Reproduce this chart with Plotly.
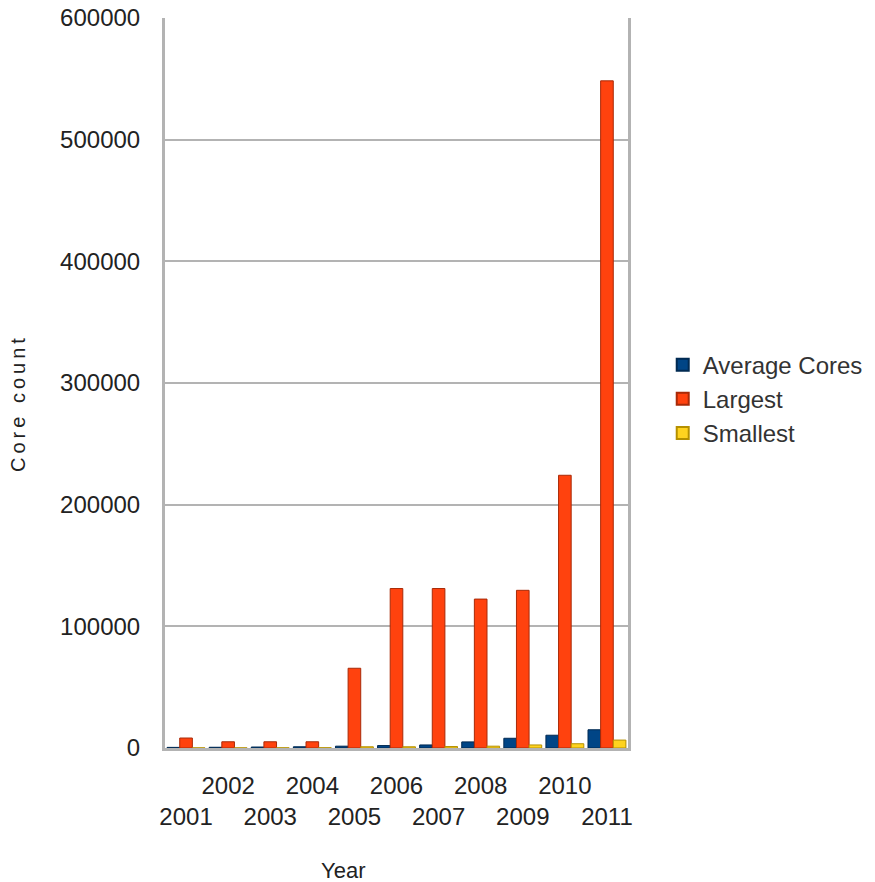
import plotly.graph_objects as go

years = ["2001", "2002", "2003", "2004", "2005", "2006", "2007", "2008", "2009", "2010", "2011"]
average_cores = [500, 600, 800, 1000, 1500, 2000, 2500, 5000, 8000, 10500, 15000]
largest = [8192, 5120, 5120, 5120, 65536, 131072, 131072, 122400, 129600, 224162, 548352]
smallest = [100, 100, 150, 200, 1000, 1000, 1200, 1500, 2500, 3500, 6500]

y_ticks = [0, 100000, 200000, 300000, 400000, 500000, 600000]

font_fam = "Liberation Sans, Arial, sans-serif"

fig = go.Figure()
fig.add_trace(go.Bar(name="Average Cores", x=years, y=average_cores,
                     marker=dict(color="#004586", line=dict(color="#002a52", width=1))))
fig.add_trace(go.Bar(name="Largest", x=years, y=largest,
                     marker=dict(color="#ff420e", line=dict(color="#a82a08", width=1))))
fig.add_trace(go.Bar(name="Smallest", x=years, y=smallest,
                     marker=dict(color="#ffd320", line=dict(color="#b59000", width=1))))

ticktext = [y if i % 2 == 1 else "<br>" + y for i, y in enumerate(years)]

fig.update_layout(
    width=875, height=882,
    margin=dict(l=165, r=247, t=18, b=134, autoexpand=False),
    paper_bgcolor="white", plot_bgcolor="white",
    barmode="group", bargap=0.1, bargroupgap=0.0,
    font=dict(family=font_fam, size=24, color="#222222"),
    showlegend=True,
    legend=dict(x=1.075, y=0.478, xanchor="left", yanchor="middle",
                font=dict(size=24, color="#333333"), traceorder="normal",
                itemsizing="constant", tracegroupgap=0),
    xaxis=dict(type="category", tickmode="array", tickvals=years, ticktext=ticktext,
               tickangle=0, automargin=False,
               showgrid=False, showline=True, linecolor="#b3b3b3", linewidth=3,
               ticks="outside", ticklen=14, tickcolor="rgba(0,0,0,0)",
               tickfont=dict(size=24, color="#222222"),
               range=[-0.5, len(years) - 0.5]),
    yaxis=dict(range=[0, 600000], tickvals=y_ticks, ticktext=[str(v) for v in y_ticks],
               automargin=False,
               showgrid=True, gridcolor="#b3b3b3", gridwidth=2,
               showline=True, linecolor="#b3b3b3", linewidth=3, mirror=True,
               zeroline=False, ticks="outside", ticklen=17, tickcolor="rgba(0,0,0,0)",
               tickfont=dict(size=24, color="#222222")),
    annotations=[
        dict(text='<span style="letter-spacing:4px">Core count</span>', x=18, xref="paper",
             y=0.4726, yref="paper",
             textangle=-90, showarrow=False, font=dict(size=20, color="#222222"),
             xanchor="center", yanchor="middle"),
        dict(text="Year", x=0.385, xref="paper", y=-0.168, yref="paper",
             showarrow=False, font=dict(size=22, color="#222222"),
             xanchor="center", yanchor="middle"),
    ],
)
fig.layout.annotations[0].x = (18 - 165) / (875 - 165 - 247)

fig.write_html("out.html")
